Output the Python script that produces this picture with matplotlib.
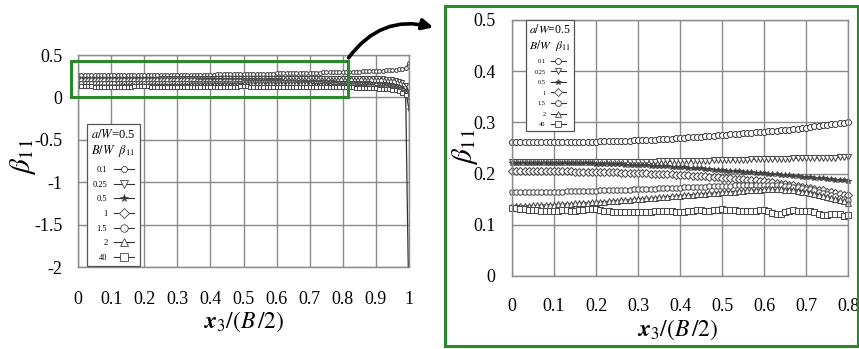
import numpy as np
import matplotlib
matplotlib.use('Agg')
import matplotlib.pyplot as plt
from matplotlib.patches import Rectangle, FancyArrowPatch

plt.rcParams['font.family'] = ['Liberation Serif', 'DejaVu Serif']
plt.rcParams['mathtext.fontset'] = 'stix'
plt.rcParams['axes.unicode_minus'] = False

# x3/(B/2) sample positions, step 0.01
x3 = np.round(np.linspace(0, 1, 101), 2)

bw_labels = ['0.1', '0.25', '0.5', '1', '1.5', '2', '40']

b_01 = [0.262, 0.262, 0.262, 0.262, 0.262, 0.262, 0.262, 0.262, 0.262, 0.262,
        0.262, 0.262, 0.262, 0.262, 0.262, 0.262, 0.262, 0.262, 0.262, 0.262,
        0.262, 0.263, 0.263, 0.263, 0.263, 0.264, 0.264, 0.264, 0.264, 0.265,
        0.265, 0.265, 0.266, 0.266, 0.266, 0.267, 0.267, 0.268, 0.268, 0.269,
        0.270, 0.270, 0.271, 0.271, 0.272, 0.272, 0.273, 0.274, 0.274, 0.275,
        0.276, 0.276, 0.277, 0.277, 0.278, 0.279, 0.279, 0.280, 0.281, 0.281,
        0.282, 0.283, 0.283, 0.284, 0.285, 0.286, 0.286, 0.287, 0.288, 0.289,
        0.290, 0.291, 0.292, 0.293, 0.294, 0.295, 0.296, 0.297, 0.298, 0.299,
        0.300, 0.301, 0.302, 0.303, 0.304, 0.305, 0.307, 0.308, 0.309, 0.311,
        0.312, 0.314, 0.316, 0.318, 0.320, 0.323, 0.326, 0.330, 0.336, 0.348,
        0.410]
b_025 = [0.222, 0.222, 0.222, 0.222, 0.222, 0.222, 0.222, 0.222, 0.222, 0.222,
         0.222, 0.222, 0.222, 0.222, 0.222, 0.222, 0.222, 0.222, 0.222, 0.222,
         0.222, 0.222, 0.222, 0.222, 0.222, 0.223, 0.223, 0.223, 0.223, 0.223,
         0.223, 0.223, 0.223, 0.223, 0.223, 0.224, 0.224, 0.224, 0.224, 0.224,
         0.224, 0.224, 0.224, 0.225, 0.225, 0.225, 0.225, 0.225, 0.226, 0.226,
         0.226, 0.226, 0.226, 0.227, 0.227, 0.227, 0.227, 0.228, 0.228, 0.228,
         0.228, 0.228, 0.229, 0.229, 0.229, 0.229, 0.229, 0.230, 0.230, 0.230,
         0.230, 0.230, 0.230, 0.231, 0.231, 0.231, 0.231, 0.231, 0.232, 0.232,
         0.232, 0.232, 0.232, 0.232, 0.232, 0.232, 0.231, 0.231, 0.230, 0.229,
         0.228, 0.226, 0.224, 0.221, 0.217, 0.212, 0.205, 0.195, 0.178, 0.150,
         0.060]
b_05 = [0.221, 0.221, 0.221, 0.221, 0.221, 0.221, 0.221, 0.221, 0.221, 0.221,
        0.221, 0.221, 0.220, 0.220, 0.220, 0.220, 0.220, 0.220, 0.220, 0.220,
        0.219, 0.219, 0.219, 0.219, 0.218, 0.218, 0.218, 0.217, 0.217, 0.217,
        0.216, 0.216, 0.216, 0.215, 0.215, 0.215, 0.214, 0.214, 0.213, 0.213,
        0.212, 0.212, 0.211, 0.211, 0.210, 0.210, 0.209, 0.209, 0.208, 0.208,
        0.207, 0.206, 0.206, 0.205, 0.205, 0.204, 0.203, 0.203, 0.202, 0.201,
        0.201, 0.200, 0.199, 0.199, 0.198, 0.197, 0.197, 0.196, 0.195, 0.194,
        0.194, 0.193, 0.192, 0.191, 0.191, 0.190, 0.189, 0.188, 0.187, 0.187,
        0.186, 0.185, 0.184, 0.183, 0.182, 0.181, 0.180, 0.178, 0.177, 0.175,
        0.173, 0.171, 0.168, 0.165, 0.161, 0.156, 0.149, 0.139, 0.122, 0.090,
        -0.140]
b_1 = [0.205, 0.205, 0.205, 0.205, 0.205, 0.205, 0.205, 0.205, 0.205, 0.205,
       0.205, 0.205, 0.205, 0.205, 0.205, 0.204, 0.204, 0.204, 0.204, 0.204,
       0.204, 0.204, 0.203, 0.203, 0.203, 0.203, 0.202, 0.202, 0.202, 0.201,
       0.201, 0.201, 0.201, 0.200, 0.200, 0.200, 0.199, 0.199, 0.199, 0.198,
       0.198, 0.197, 0.197, 0.196, 0.196, 0.195, 0.195, 0.194, 0.194, 0.193,
       0.192, 0.192, 0.191, 0.190, 0.190, 0.189, 0.188, 0.187, 0.187, 0.186,
       0.185, 0.184, 0.183, 0.182, 0.180, 0.179, 0.178, 0.177, 0.175, 0.174,
       0.172, 0.171, 0.170, 0.168, 0.167, 0.165, 0.164, 0.162, 0.161, 0.159,
       0.158, 0.157, 0.155, 0.154, 0.152, 0.151, 0.149, 0.147, 0.145, 0.143,
       0.141, 0.138, 0.135, 0.132, 0.128, 0.123, 0.116, 0.106, 0.090, 0.060,
       0.020]
b_15 = [0.165, 0.165, 0.165, 0.165, 0.165, 0.165, 0.165, 0.165, 0.165, 0.165,
        0.165, 0.165, 0.165, 0.166, 0.166, 0.166, 0.166, 0.166, 0.166, 0.166,
        0.166, 0.167, 0.167, 0.167, 0.167, 0.168, 0.168, 0.168, 0.168, 0.169,
        0.169, 0.169, 0.170, 0.170, 0.170, 0.171, 0.171, 0.171, 0.172, 0.172,
        0.172, 0.173, 0.173, 0.173, 0.174, 0.174, 0.174, 0.175, 0.175, 0.175,
        0.176, 0.176, 0.176, 0.177, 0.177, 0.177, 0.177, 0.178, 0.178, 0.178,
        0.178, 0.178, 0.178, 0.177, 0.177, 0.176, 0.175, 0.174, 0.173, 0.172,
        0.170, 0.169, 0.167, 0.165, 0.163, 0.161, 0.158, 0.156, 0.153, 0.151,
        0.148, 0.146, 0.144, 0.142, 0.140, 0.138, 0.136, 0.134, 0.132, 0.129,
        0.127, 0.124, 0.121, 0.118, 0.114, 0.110, 0.104, 0.096, 0.084, 0.062,
        0.030]
b_2 = [0.136, 0.136, 0.137, 0.137, 0.137, 0.138, 0.138, 0.138, 0.139, 0.139,
       0.139, 0.140, 0.140, 0.141, 0.141, 0.142, 0.142, 0.143, 0.143, 0.144,
       0.144, 0.145, 0.145, 0.146, 0.147, 0.147, 0.148, 0.148, 0.149, 0.150,
       0.150, 0.151, 0.152, 0.152, 0.153, 0.154, 0.154, 0.155, 0.156, 0.156,
       0.157, 0.158, 0.158, 0.159, 0.160, 0.160, 0.161, 0.162, 0.162, 0.163,
       0.164, 0.164, 0.165, 0.165, 0.166, 0.166, 0.167, 0.167, 0.168, 0.168,
       0.169, 0.169, 0.169, 0.169, 0.169, 0.168, 0.168, 0.167, 0.166, 0.165,
       0.164, 0.162, 0.161, 0.159, 0.157, 0.155, 0.153, 0.150, 0.148, 0.146,
       0.143, 0.141, 0.139, 0.137, 0.135, 0.133, 0.131, 0.129, 0.127, 0.125,
       0.122, 0.120, 0.117, 0.114, 0.110, 0.106, 0.100, 0.092, 0.080, 0.058,
       0.010]
b_40 = [0.133, 0.132, 0.131, 0.130, 0.129, 0.128, 0.128, 0.127, 0.127, 0.127,
        0.127, 0.127, 0.128, 0.128, 0.127, 0.127, 0.128, 0.129, 0.130, 0.130,
        0.130, 0.129, 0.127, 0.126, 0.125, 0.125, 0.125, 0.125, 0.125, 0.125,
        0.125, 0.125, 0.125, 0.125, 0.126, 0.126, 0.127, 0.127, 0.126, 0.125,
        0.125, 0.125, 0.126, 0.127, 0.128, 0.128, 0.127, 0.127, 0.128, 0.129,
        0.130, 0.129, 0.128, 0.128, 0.127, 0.127, 0.126, 0.126, 0.127, 0.128,
        0.128, 0.127, 0.124, 0.122, 0.122, 0.125, 0.127, 0.128, 0.127, 0.126,
        0.126, 0.126, 0.125, 0.122, 0.120, 0.120, 0.121, 0.122, 0.121, 0.118,
        0.119, 0.120, 0.119, 0.117, 0.116, 0.115, 0.114, 0.112, 0.111, 0.109,
        0.107, 0.104, 0.101, 0.098, 0.094, 0.089, 0.082, 0.072, 0.056, 0.025,
        -2.600]

series = [b_01, b_025, b_05, b_1, b_15, b_2, b_40]
markers = ['8', 'v', '*', 'D', 'o', '^', 's']
faces = ['white', 'white', '#333333', 'white', 'white', 'white', 'white']

green = '#2a8a2a'
gridc = '#8a8a8a'


def style_axes(ax, xt, yt):
    ax.set_xticks(xt)
    ax.set_yticks(yt)
    ax.xaxis.set_major_formatter(plt.FuncFormatter(lambda v, p: '%g' % round(v, 2)))
    ax.yaxis.set_major_formatter(plt.FuncFormatter(lambda v, p: '%g' % round(v, 2)))
    ax.grid(True, color=gridc, linewidth=1.0)
    ax.set_axisbelow(True)
    for s in ax.spines.values():
        s.set_color(gridc)
        s.set_linewidth(1.0)
    ax.tick_params(length=0, labelsize=13)
    ax.tick_params(axis='x', pad=17)
    ax.tick_params(axis='y', pad=11)


def draw_series(ax, xs, ms, clip, xmax):
    keep = xs <= xmax + 1e-9
    for vals, m, fc in zip(series, markers, faces):
        v = np.array(vals)
        ax.plot(xs[keep], v[keep], color='#333333', linewidth=0.9, marker=m,
                markersize=ms, markerfacecolor=fc, markeredgecolor='#4a4a4a',
                markeredgewidth=0.75, clip_on=clip)


def add_legend(ax, fs, tfs, loc_box):
    handles = []
    for m, fc in zip(markers, faces):
        h, = ax.plot([], [], color='#333333', linewidth=0.8, marker=m,
                     markersize=fs * 0.9, markerfacecolor=fc,
                     markeredgecolor='#444444', markeredgewidth=0.6)
        handles.append(h)
    leg = ax.legend(handles, bw_labels, loc='upper left', bbox_to_anchor=loc_box,
                    markerfirst=False, fontsize=fs, handlelength=2.4,
                    title='$a/W$=0.5\n' + r'$B/W$  $\beta_{11}$',
                    title_fontsize=tfs, frameon=True, fancybox=False,
                    borderpad=0.5, labelspacing=0.8, handletextpad=0.8,
                    borderaxespad=0)
    leg.get_frame().set_edgecolor('#555555')
    leg.get_frame().set_linewidth(0.9)
    leg.get_frame().set_alpha(1)
    return leg


fig = plt.figure(figsize=(8.59, 3.49), dpi=100)

# left: full thickness
ax1 = fig.add_axes([78 / 859, 1 - 267 / 349, 331 / 859, 212 / 349])
ax1.set_xlim(0, 1)
ax1.set_ylim(-2, 0.5)
style_axes(ax1, np.round(np.arange(0, 1.01, 0.1), 1), [0.5, 0, -0.5, -1, -1.5, -2])
draw_series(ax1, x3, 2.9, True, 1.0)
add_legend(ax1, 6, 9, (0.027, 0.675))
ax1.text(0.5, -0.26, r'$\mathbfit{x}_{3}/(B\,/2)$', transform=ax1.transAxes,
         ha='center', va='center', fontsize=17)
fig.text(23 / 859, 1 - 157 / 349, r'$\beta_{11}$', rotation=90, ha='center',
         va='center', fontsize=21)

# zoom box on left panel
ax1.add_patch(Rectangle((-0.021, 0.0), 0.837, 0.43, fill=False, edgecolor=green,
                        linewidth=2.2, clip_on=False, zorder=5))

# right: zoomed region
ax2 = fig.add_axes([512 / 859, 1 - 276 / 349, 336 / 859, 256 / 349])
ax2.set_xlim(0, 0.8)
ax2.set_ylim(0, 0.5)
style_axes(ax2, np.round(np.arange(0, 0.81, 0.1), 1), np.round(np.arange(0, 0.51, 0.1), 1))
ax2.tick_params(axis='x', pad=16)
ax2.tick_params(axis='y', pad=12)
draw_series(ax2, x3, 3.9, False, 0.8)
add_legend(ax2, 4.6, 8.5, (0.042, 1.0))
ax2.text(0.494, -0.21, r'$\mathbfit{x}_{3}/(B\,/2)$', transform=ax2.transAxes,
         ha='center', va='center', fontsize=17)
fig.text(465 / 859, 1 - 147 / 349, r'$\beta_{11}$', rotation=90, ha='center',
         va='center', fontsize=21)

# green frame around the zoomed panel
fig.patches.append(Rectangle((445 / 859, 3 / 349), 413 / 859, 340 / 349,
                             transform=fig.transFigure, fill=False,
                             edgecolor=green, linewidth=2.2))

arrow = FancyArrowPatch((347 / 859, 1 - 60 / 349), (436 / 859, 1 - 28 / 349),
                        transform=fig.transFigure, connectionstyle='arc3,rad=-0.35',
                        arrowstyle='-|>', mutation_scale=16, linewidth=2.6,
                        color='black')
fig.patches.append(arrow)

fig.savefig('out.png', dpi=100)
